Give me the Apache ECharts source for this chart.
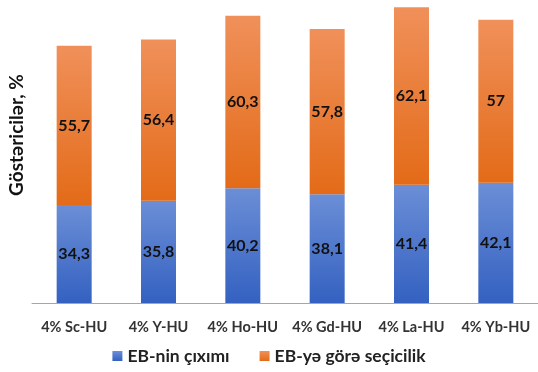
<!DOCTYPE html>
<html>
<head>
<meta charset="utf-8">
<script src="https://cdn.jsdelivr.net/npm/echarts@6/dist/echarts.min.js"></script>
<style>
  html, body { margin: 0; padding: 0; background: #fff; }
  #chart { width: 538px; height: 372px; }
</style>
</head>
<body>
<div id="chart"></div>
<script>
// Catalysts and their measured indicators (%)
const categories = ['4% Sc-HU', '4% Y-HU', '4% Ho-HU', '4% Gd-HU', '4% La-HU', '4% Yb-HU'];
const yieldValues = [34.3, 35.8, 40.2, 38.1, 41.4, 42.1];
const selectivityValues = [55.7, 56.4, 60.3, 57.8, 62.1, 57];
const seriesNames = ['EB-nin çıxımı', 'EB-yə görə seçicilik'];
const axisTitle = 'Göstəricilər, %';

const FONT = 'Lato, "Open Sans", sans-serif';

function grad(top, bottom) {
  return new echarts.graphic.LinearGradient(0, 0, 0, 1, [
    { offset: 0, color: top },
    { offset: 1, color: bottom }
  ]);
}

const fmt = p => String(p.value).replace('.', ',');

const labelStyle = {
  show: true,
  position: 'inside',
  formatter: fmt,
  color: '#111',
  fontFamily: FONT,
  fontWeight: 'bold',
  fontSize: 16
};

const chart = echarts.init(document.getElementById('chart'));
chart.setOption({
  animation: false,
  backgroundColor: '#fff',
  grid: { left: 32, right: -6, top: 3, bottom: 69 },
  xAxis: {
    type: 'category',
    data: categories,
    axisLine: { lineStyle: { color: '#a6a6a6', width: 1 } },
    axisTick: { show: false },
    axisLabel: {
      interval: 0,
      margin: 17,
      color: '#333',
      fontFamily: FONT,
      fontWeight: 'bold',
      fontSize: 14.5
    }
  },
  yAxis: {
    type: 'value',
    min: 0,
    max: 105,
    show: false
  },
  legend: {
    data: seriesNames,
    bottom: 2,
    left: 'center',
    itemWidth: 10,
    itemHeight: 10,
    itemGap: 30,
    icon: 'rect',
    textStyle: {
      color: '#222',
      fontFamily: FONT,
      fontWeight: 'bold',
      fontSize: 17.5
    }
  },
  graphic: [{
    type: 'text',
    x: 17,
    y: 135,
    rotation: Math.PI / 2,
    style: {
      text: axisTitle,
      fill: '#111',
      fontFamily: FONT,
      fontWeight: 'bold',
      fontSize: 19,
      align: 'center',
      verticalAlign: 'middle'
    }
  }],
  series: [
    {
      name: seriesNames[0],
      type: 'bar',
      stack: 'total',
      barWidth: 35,
      data: yieldValues,
      itemStyle: { color: grad('#6b8ed6', '#3461c1') },
      label: labelStyle
    },
    {
      name: seriesNames[1],
      type: 'bar',
      stack: 'total',
      barWidth: 35,
      data: selectivityValues,
      itemStyle: { color: grad('#f0905a', '#e36b18') },
      label: labelStyle
    }
  ]
});
</script>
</body>
</html>
